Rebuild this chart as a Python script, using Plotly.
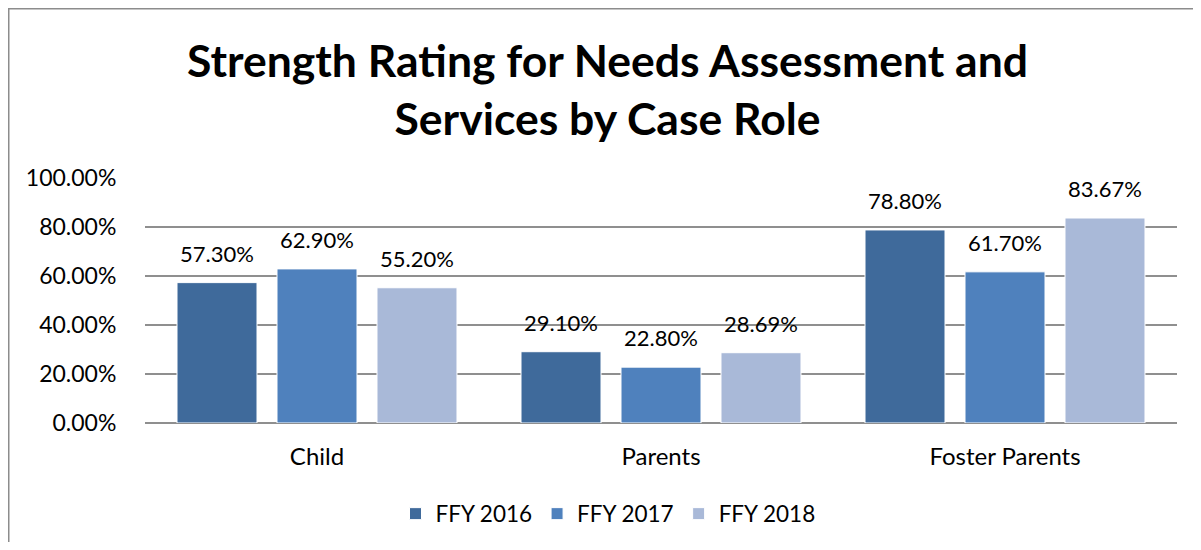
import plotly.graph_objects as go

categories = ["Child", "Parents", "Foster Parents"]
series_names = ["FFY 2016", "FFY 2017", "FFY 2018"]
ffy2016 = [57.30, 29.10, 78.80]
ffy2017 = [62.90, 22.80, 61.70]
ffy2018 = [55.20, 28.69, 83.67]
y_ticks = [0, 20, 40, 60, 80, 100]
y_tick_labels = ["0.00%", "20.00%", "40.00%", "60.00%", "80.00%", "100.00%"]

colors = ["#3F6A9B", "#4F81BD", "#A9B9D8"]
FONT = "Lato, 'Open Sans', sans-serif"

# The page body has an 8px margin; work in figure pixels = reference pixels - 8
OFF = 8
W, H = 1185, 534
L, R, T, B = 145 - OFF, 16, 178 - OFF, 119
pw = W - L - R
ph = H - T - B

BARGAP = 0.128
all_series = [ffy2016, ffy2017, ffy2018]

fig = go.Figure()
for name, vals, col in zip(series_names, all_series, colors):
    fig.add_trace(go.Bar(
        x=categories, y=vals, name=name,
        marker=dict(color=col, line=dict(color="white", width=1)),
        hovertemplate="%{x}: %{y:.2f}%<extra>" + name + "</extra>",
    ))

# value labels placed above each bar, via the category axis positions
annotations = []
n = len(all_series)
slot = (1 - BARGAP) / n
for i, vals in enumerate(all_series):
    for j, v in enumerate(vals):
        annotations.append(dict(
            x=j + (i - (n - 1) / 2) * slot, y=v, xref="x", yref="y",
            text=f"{v:.2f}%", showarrow=False, yanchor="bottom", yshift=14,
            font=dict(size=22, family=FONT, color="#000000"),
        ))

# title
annotations.append(dict(
    text="<b>Strength Rating for Needs Assessment and<br>Services by Case Role</b>",
    xref="paper", yref="paper",
    x=(607 - OFF - L) / pw, y=1 + (T - 23) / ph, xanchor="center", yanchor="top",
    showarrow=False, font=dict(size=44.5, family=FONT, color="#000000"),
))

fig.update_layout(
    width=W, height=H,
    margin=dict(l=L, r=R, t=T, b=B, autoexpand=False),
    paper_bgcolor="white", plot_bgcolor="white",
    barmode="group", bargap=BARGAP, bargroupgap=0.2,
    font=dict(family=FONT, size=22, color="#000000"),
    showlegend=True,
    legend=dict(orientation="h", x=(608 - OFF - L) / pw, xanchor="center",
                y=-(514 - OFF - (T + ph)) / ph, yanchor="middle",
                font=dict(size=22.5, family=FONT), traceorder="normal",
                itemwidth=30),
    xaxis=dict(showgrid=False, showline=False, ticks="outside", ticklen=12,
               tickcolor="rgba(0,0,0,0)", tickfont=dict(size=24)),
    yaxis=dict(range=[0, 100], tickvals=y_ticks, ticktext=y_tick_labels,
               showgrid=True, gridcolor="#8F8F8F", gridwidth=1.5,
               zeroline=True, zerolinecolor="#8F8F8F", zerolinewidth=2,
               showline=False, ticks="outside", ticklen=23,
               tickcolor="rgba(0,0,0,0)", tickfont=dict(size=23)),
    annotations=annotations,
    shapes=[
        dict(type="line", xref="paper", yref="paper",
             x0=(0.75 - L) / pw, x1=(0.75 - L) / pw,
             y0=1 + (T - 0.5) / ph, y1=-(B + 5) / ph,
             line=dict(color="#8C8C8C", width=1.5)),
        dict(type="line", xref="paper", yref="paper",
             x0=(0 - L) / pw, x1=(W + 5 - L) / pw,
             y0=1 + (T - 0.75) / ph, y1=1 + (T - 0.75) / ph,
             line=dict(color="#8C8C8C", width=1.5)),
    ],
)

fig.write_html("out.html")
